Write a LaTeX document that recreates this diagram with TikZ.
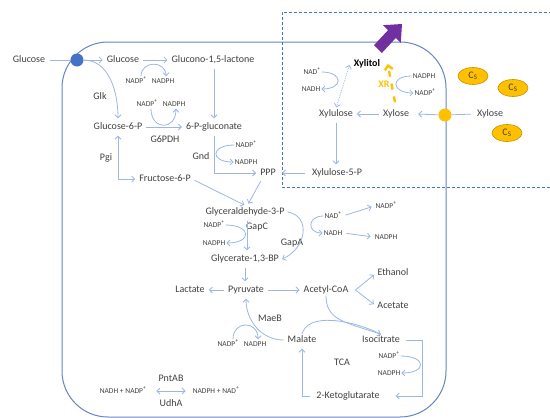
\documentclass[tikz,border=0pt]{standalone}
\usepackage{fontspec}
\setmainfont{Carlito}
\usetikzlibrary{arrows.meta,shapes.geometric}
\definecolor{flowblue}{HTML}{9DB6E3}
\definecolor{cellblue}{HTML}{6684C4}
\definecolor{txtgray}{HTML}{404040}
\definecolor{glcblue}{HTML}{4472C4}
\definecolor{xylgold}{HTML}{FFC000}
\definecolor{csdark}{HTML}{C59200}
\definecolor{expurple}{HTML}{7030A0}
\begin{document}
\begin{tikzpicture}[x=1pt,y=-1pt,
    >={Straight Barb[length=3pt,width=6pt]},
    met/.style={inner sep=1pt,text=txtgray,text height=7pt,text depth=2pt,font=\fontsize{10}{12}\selectfont},
    cof/.style={inner sep=1pt,text=txtgray,text height=5.5pt,text depth=1.5pt,font=\fontsize{7.5}{9}\selectfont},
    flow/.style={->,draw=flowblue,line width=0.8pt,shorten >=3pt,shorten <=3pt},
    cofarc/.style={->,draw=flowblue,line width=0.8pt},
    plain/.style={draw=flowblue,line width=0.8pt},
    carrier/.style={circle,inner sep=0pt,minimum size=13pt},
    csmol/.style={ellipse,draw=csdark,fill=xylgold,line width=0.6pt,minimum width=30pt,minimum height=17pt,inner sep=0pt,text=txtgray,font=\fontsize{10}{12}\selectfont}]
	\useasboundingbox (0,0) rectangle (550,418);
	
	% cell and xylose module
	\draw[cellblue, line width=1pt, rounded corners=46pt] (62,42) rectangle (446,417);
	\draw[glcblue, line width=0.7pt, dash pattern=on 3pt off 2pt] (552,12) -- (282,12) -- (282,187) -- (552,187);
	\fill[expurple] (381.9,52.9) -- (374.1,45.1) -- (388.1,30.1) -- (383.2,25.2) -- (402,24) -- (400.8,42.8) -- (395.9,37.9) -- cycle;
	
	\node[carrier, fill=glcblue] (glcT) at (77,60) {};
	\node[carrier, fill=xylgold] (xylT) at (445,115) {};
	\node[csmol] (cs1) at (473,76) {C\textsubscript{S}};
	\node[csmol] (cs2) at (513,88) {C\textsubscript{S}};
	\node[csmol] (cs3) at (507,133) {C\textsubscript{S}};
	
	% glucose side
	\node[met] (gluout) at (29,60) {Glucose};
	\node[met] (glcin) at (123,60) {Glucose};
	\node[met] (glucono) at (213,60) {Glucono-1,5-lactone};
	\node[cof] (nadpA) at (136,81) {NADP\textsuperscript{+}};
	\node[cof] (nadphA) at (163,81) {NADPH};
	\node[met] (glk) at (100,97) {Glk};
	\node[cof] (nadpB) at (147,104) {NADP\textsuperscript{+}};
	\node[cof] (nadphB) at (174,104) {NADPH};
	\node[met] (g6p) at (118,127) {Glucose-6-P};
	\node[met] (pglu) at (214,127) {6-P-gluconate};
	\node[met] (g6pdh) at (165,140) {G6PDH};
	\node[met] (pgi) at (106,158) {Pgi};
	\node[met] (gnd) at (201,157) {Gnd};
	\node[cof] (nadpC) at (246,145) {NADP\textsuperscript{+}};
	\node[cof] (nadphC) at (246,162) {NADPH};
	\node[met] (ppp) at (268,173) {PPP};
	\node[met] (f6p) at (165,179) {Fructose-6-P};
	
	% xylose side
	\node[met, text=black, font=\bfseries\fontsize{10}{12}\selectfont] (xylitol) at (367,64) {Xylitol};
	\node[cof] (nadH) at (312,72) {NAD\textsuperscript{+}};
	\node[cof] (nadhH) at (311,89) {NADH};
	\node[met, text=xylgold, font=\bfseries\fontsize{10}{12}\selectfont] (xr) at (384,85) {XR};
	\node[cof] (nadphI) at (424,76) {NADPH};
	\node[cof] (nadpI) at (425,93) {NADP\textsuperscript{+}};
	\node[met] (xylu) at (336,114) {Xylulose};
	\node[met] (xylin) at (396,114) {Xylose};
	\node[met] (xylout) at (490,114) {Xylose};
	\node[met] (xu5p) at (337,173) {Xylulose-5-P};
	
	% glycolysis
	\node[met] (gap) at (245,212) {Glyceraldehyde-3-P};
	\node[cof] (nadpD) at (214,225) {NADP\textsuperscript{+}};
	\node[met] (gapc) at (257,227) {GapC};
	\node[cof] (nadphD) at (214,243) {NADPH};
	\node[met] (gapa) at (292,243) {GapA};
	\node[met] (bpg) at (245,259) {Glycerate-1,3-BP};
	\node[cof] (nadE) at (333,216) {NAD\textsuperscript{+}};
	\node[cof] (nadhE) at (333,233) {NADH};
	\node[cof] (nadpE) at (386,206) {NADP\textsuperscript{+}};
	\node[cof] (nadphE) at (386,237) {NADPH};
	\node[met] (lac) at (190,290) {Lactate};
	\node[met] (pyr) at (246,290) {Pyruvate};
	\node[met] (acoa) at (326,290) {Acetyl-CoA};
	\node[met] (etoh) at (393,273) {Ethanol};
	\node[met] (ace) at (393,306) {Acetate};
	
	% TCA and transhydrogenase
	\node[met] (maeb) at (270,319) {MaeB};
	\node[cof] (nadpF) at (228,344) {NADP\textsuperscript{+}};
	\node[cof] (nadphF) at (255,344) {NADPH};
	\node[met] (mal) at (302,340) {Malate};
	\node[met] (icit) at (381,340) {Isocitrate};
	\node[met] (tca) at (342,363) {TCA};
	\node[cof] (nadpG) at (389,356) {NADP\textsuperscript{+}};
	\node[cof] (nadphG) at (389,373) {NADPH};
	\node[met] (akg) at (348,396) {2-Ketoglutarate};
	\node[met] (pntab) at (171,379) {PntAB};
	\node[cof] (lhs) at (123,391) {NADH + NADP\textsuperscript{+}};
	\node[cof] (rhs) at (216,391) {NADPH + NAD\textsuperscript{+}};
	\node[met] (udha) at (171,404) {UdhA};
	
	% connectors
	\draw[plain, shorten <=4pt] (gluout.east) -- (glcT);
	\draw[flow, shorten <=0pt] (glcT) -- (glcin.west);
	\draw[flow, shorten <=0pt] (glcT.east) .. controls +(25,0) and +(0,-30) .. (g6p.north);
	\draw[flow] (glcin) -- (glucono);
	\draw[cofarc] ([xshift=5pt]nadpA.north) .. controls +(0,-16) and +(0,-16) .. ([xshift=3pt]nadphA.north);
	\draw[flow] (glucono.south -| pglu) -- (pglu.north);
	\draw[flow] (g6p) -- (pglu);
	\draw[cofarc] ([xshift=4pt]nadpB.south) .. controls +(0,22) and +(0,22) .. ([xshift=2pt]nadphB.south);
	\draw[flow, <->] (g6p.south) |- (f6p.west);
	\draw[flow] (pglu.south) |- (ppp.west);
	\draw[cofarc] (nadpC.west) .. controls +(-24,0) and +(-24,0) .. (nadphC.west);
	\draw[flow] (f6p.east) -- ([xshift=2pt]gap.north);
	\draw[flow] ([xshift=-6pt]ppp.south) -- ([xshift=2pt]gap.north);
	\draw[flow, shorten <=6pt, shorten >=5pt] (xu5p.west) -- (ppp.east);
	\draw[flow] (xylu.south) -- (xylu.south |- xu5p.north);
	
	\draw[plain, shorten <=5pt] (xylout.west) -- (xylT);
	\draw[flow, shorten <=0pt] (xylT) -- ([xshift=5pt]xylin.east);
	\draw[flow] (xylin) -- (xylu);
	\draw[flow, <->, densely dotted, shorten >=1pt, shorten <=1pt] (xylu.north) -- ([xshift=-3pt]xylitol.west);
	\draw[cofarc] (nadH.east) .. controls +(22,0) and +(22,0) .. (nadhH.east);
	\draw[xylgold, line width=2.4pt, dash pattern=on 6pt off 7pt, -{Straight Barb[length=4pt,width=8pt]}] ([xshift=-1pt,yshift=6pt]xylin.north) -- ([xshift=6.5pt]xylitol.east);
	\draw[cofarc] (nadphI.west) .. controls +(-22,0) and +(-22,0) .. (nadpI.west);
	
	\draw[flow] ([xshift=2pt]gap.south) -- ([xshift=2pt]bpg.north);
	\draw[cofarc] (nadpD.east) .. controls +(26,0) and +(26,0) .. (nadphD.east);
	\draw[cofarc] ([xshift=2pt]gap.east) .. controls +(24,4) and +(24,-10) .. ([xshift=2pt]bpg.east);
	\draw[cofarc] (nadE.west) .. controls +(-16,0) and +(-16,0) .. (nadhE.west);
	\draw[flow] (nadE.east) -- (nadpE.west);
	\draw[flow] (nadhE.east) -- (nadphE.west);
	\draw[flow] (bpg.south) -- (bpg.south |- pyr.north);
	\draw[flow] (pyr) -- (lac);
	\draw[flow] (pyr) -- (acoa);
	\coordinate (fork) at ([xshift=6pt]acoa.east);
	\draw[flow, <->] (etoh.west) -- (fork) -- (ace.west);
	\draw[cofarc] (acoa.south) .. controls +(0,25) and +(-35,-12) .. (icit.north);
	\draw[plain] (mal.north) .. controls +(5,-22) and +(-30,-15) .. (icit.north);
	
	\draw[flow] (mal.west) .. controls +(-25,0) and +(0,25) .. (pyr.south);
	\draw[cofarc] ([xshift=5pt]nadpF.north) .. controls +(0,-19) and +(0,-19) .. ([xshift=3pt]nadphF.north);
	\draw[flow] ([xshift=2pt]icit.east) -- ([xshift=21pt]icit.east) |- ([xshift=12pt]akg.east);
	\draw[cofarc] (nadpG.east) .. controls +(26,0) and +(26,0) .. (nadphG.east);
	\draw[flow] ([xshift=-2pt]akg.west) -| (mal.south);
	\draw[flow, <->] ([xshift=6pt]lhs.east) -- ([xshift=-3pt]rhs.west);
\end{tikzpicture}
\end{document}
